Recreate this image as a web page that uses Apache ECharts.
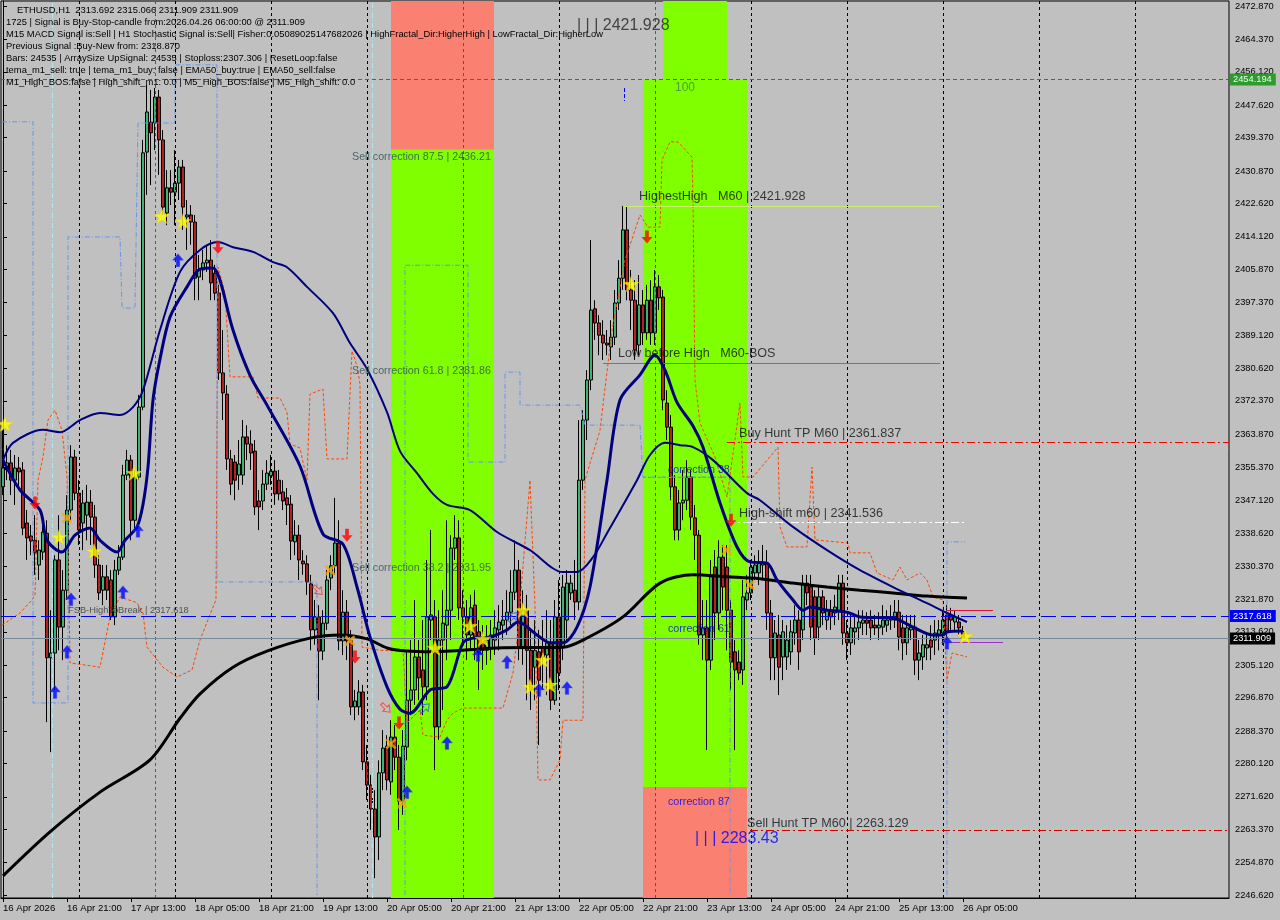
<!DOCTYPE html>
<html><head><meta charset="utf-8">
<script src="https://cdn.jsdelivr.net/npm/echarts@6/dist/echarts.min.js"></script>
<style>html,body{margin:0;padding:0;background:#C0C0C0}#c{width:1280px;height:920px}</style>
</head><body><div id="c"></div><script>
// ---------- tick labels ----------
const xTickLabels = ['16 Apr 2026','16 Apr 21:00','17 Apr 13:00','18 Apr 05:00','18 Apr 21:00','19 Apr 13:00','20 Apr 05:00','20 Apr 21:00','21 Apr 13:00','22 Apr 05:00','22 Apr 21:00','23 Apr 13:00','24 Apr 05:00','24 Apr 21:00','25 Apr 13:00','26 Apr 05:00'];
const yTickLabels = ['2472.870','2464.370','2456.120','2447.620','2439.370','2430.870','2422.620','2414.120','2405.870','2397.370','2389.120','2380.620','2372.370','2363.870','2355.370','2347.120','2338.620','2330.370','2321.870','2313.620','2305.120','2296.870','2288.370','2280.120','2271.620','2263.370','2254.870','2246.620'];
// ---------- H1 candles (16 Apr 05:00 .. 26 Apr 06:00) ----------
const open = [2350.5,2354.8,2356.6,2352.2,2355.3,2354.8,2341.3,2338.0,2336.9,2330.6,
2333.9,2338.7,2307.0,2308.2,2331.9,2314.8,2324.2,2344.6,2358.1,2348.9,
2341.3,2343.3,2346.6,2342.8,2330.6,2324.2,2327.6,2326.8,2317.4,2329.3,
2332.6,2353.5,2357.3,2342.0,2353.0,2370.8,2435.7,2443.3,2443.1,2449.7,
2438.8,2420.2,2426.6,2425.5,2427.8,2431.9,2419.2,2419.7,2417.9,2403.9,
2405.7,2407.5,2408.2,2404.9,2399.8,2379.5,2374.1,2357.6,2356.8,2353.5,
2353.5,2363.2,2361.4,2359.6,2346.9,2346.9,2351.2,2353.3,2354.5,2352.2,
2349.2,2347.7,2346.1,2336.5,2338.2,2331.6,2330.9,2325.8,2314.1,2317.4,
2308.7,2315.8,2327.3,2330.4,2336.2,2311.3,2318.6,2311.3,2294.5,2294.5,
2298.3,2280.5,2274.6,2268.5,2261.4,2277.7,2284.5,2275.4,2286.8,2281.7,
2270.5,2284.3,2296.2,2298.8,2307.2,2303.9,2299.6,2316.6,2317.4,2289.4,
2311.5,2315.3,2319.1,2334.9,2337.5,2319.7,2317.4,2312.8,2320.4,2313.6,
2312.0,2308.9,2309.5,2311.5,2314.1,2315.3,2316.6,2318.6,2323.7,2329.3,
2309.7,2319.1,2308.9,2304.6,2308.5,2309.5,2307.7,2310.8,2296.2,2317.4,
2309.7,2316.6,2323.5,2324.2,2321.2,2352.2,2367.5,2377.7,2395.8,2392.2,
2389.1,2387.1,2386.1,2388.6,2397.3,2403.6,2415.9,2400.6,2398.0,2386.6,
2396.8,2389.7,2398.0,2389.7,2401.4,2398.8,2371.8,2365.7,2350.5,2339.5,
2346.4,2347.1,2353.0,2342.6,2338.2,2312.8,2314.6,2306.4,2330.1,2318.4,
2332.6,2330.1,2319.1,2308.5,2305.9,2303.9,2321.7,2323.5,2328.6,2328.6,
2330.6,2331.1,2318.4,2307.0,2312.8,2307.2,2307.2,2308.5,2313.3,2316.6,
2314.1,2326.0,2325.0,2322.5,2314.8,2322.5,2316.6,2319.1,2318.4,2319.1,
2326.0,2313.3,2310.8,2313.6,2314.6,2315.8,2316.6,2316.6,2315.3,2314.6,
2314.8,2315.3,2317.4,2316.6,2318.6,2314.6,2310.8,2314.1,2314.8,2306.4,
2307.2,2309.5,2311.5,2311.5,2312.8,2313.3,2317.9,2317.9,2316.1,2316.1,
2313.692];
const close = [2355.3,2356.6,2352.2,2355.3,2354.3,2340.0,2337.5,2336.7,2333.7,2334.4,
2339.0,2307.0,2308.2,2331.9,2314.8,2324.2,2344.6,2358.1,2348.9,2339.5,
2346.4,2346.6,2342.8,2330.6,2323.5,2327.6,2324.2,2317.4,2329.3,2332.6,
2353.5,2357.3,2342.0,2353.0,2370.8,2435.5,2445.9,2440.6,2449.7,2438.8,
2421.7,2426.6,2425.5,2427.8,2431.9,2421.7,2419.7,2417.9,2403.6,2405.7,
2407.5,2408.2,2402.4,2399.8,2379.5,2374.4,2357.6,2351.2,2352.2,2356.3,
2363.2,2361.4,2359.1,2345.4,2345.4,2351.2,2354.0,2354.5,2348.7,2348.7,
2346.9,2345.9,2336.7,2338.2,2331.9,2330.9,2326.3,2314.1,2317.4,2308.7,
2315.8,2326.8,2330.4,2336.2,2311.3,2318.6,2311.3,2294.5,2296.0,2298.3,
2280.5,2274.6,2268.5,2261.4,2277.7,2284.0,2275.9,2286.8,2281.7,2270.5,
2284.5,2296.2,2298.8,2307.2,2301.9,2299.6,2317.4,2317.9,2289.4,2311.5,
2315.8,2319.1,2334.9,2337.5,2319.7,2317.4,2312.8,2319.7,2312.0,2308.2,
2308.9,2311.5,2312.8,2314.6,2316.1,2316.6,2318.6,2323.7,2329.3,2309.7,
2319.1,2308.9,2298.8,2308.9,2301.3,2307.2,2310.8,2296.2,2317.4,2303.1,
2325.0,2326.0,2326.0,2321.2,2352.2,2367.5,2377.7,2395.5,2392.2,2389.1,
2387.1,2386.6,2388.6,2397.3,2403.6,2415.9,2400.6,2398.0,2385.3,2396.8,
2389.7,2398.0,2389.7,2401.4,2398.6,2372.6,2365.7,2350.5,2339.5,2346.4,
2347.1,2353.0,2342.8,2338.2,2312.8,2314.6,2306.4,2327.6,2318.4,2332.6,
2325.0,2319.1,2305.9,2303.9,2303.1,2322.5,2323.5,2330.1,2330.6,2331.1,
2331.1,2318.4,2307.0,2313.3,2304.6,2313.6,2311.5,2313.6,2316.6,2308.5,
2326.0,2323.5,2314.8,2312.0,2322.5,2318.4,2319.1,2317.4,2319.9,2326.0,
2313.3,2310.8,2314.6,2314.6,2316.1,2316.6,2315.8,2314.6,2314.6,2315.3,
2316.6,2316.6,2316.6,2318.6,2312.3,2310.8,2314.6,2314.8,2306.4,2308.2,
2310.3,2310.3,2309.7,2313.3,2314.1,2316.6,2313.3,2316.6,2317.4,2314.6,
2311.909];
const low = [2348.4,2352.2,2348.4,2345.9,2349.7,2338.2,2331.9,2333.1,2328.1,2326.8,
2331.9,2290.6,2283.0,2298.8,2308.9,2306.4,2321.7,2342.0,2347.1,2335.7,
2334.4,2336.9,2335.7,2327.3,2321.7,2320.4,2321.7,2316.6,2315.3,2328.1,
2331.9,2352.2,2336.9,2339.5,2352.2,2370.0,2424.8,2427.3,2436.2,2429.9,
2419.7,2417.1,2422.2,2417.1,2423.5,2415.9,2410.8,2412.1,2398.0,2398.0,
2403.1,2405.2,2398.0,2398.0,2377.7,2367.5,2354.8,2348.4,2347.1,2349.7,
2351.0,2357.3,2354.8,2343.3,2339.5,2344.6,2349.7,2351.0,2345.9,2347.1,
2344.6,2340.8,2331.9,2333.1,2326.8,2328.1,2323.0,2308.9,2310.3,2296.2,
2306.4,2314.1,2324.2,2328.1,2308.9,2307.7,2306.4,2292.4,2291.1,2292.4,
2278.4,2270.8,2263.2,2250.9,2255.5,2273.3,2273.3,2272.1,2278.4,2263.2,
2267.0,2280.9,2292.4,2295.0,2296.2,2292.4,2296.2,2311.5,2278.4,2286.1,
2293.7,2306.4,2311.5,2331.9,2316.6,2310.3,2306.4,2308.9,2306.4,2298.8,
2303.9,2305.2,2306.4,2307.7,2308.9,2311.5,2312.8,2315.3,2321.7,2306.4,
2305.2,2296.2,2293.7,2296.2,2284.8,2298.8,2297.5,2293.7,2295.0,2298.8,
2306.4,2311.5,2321.7,2316.6,2319.1,2349.7,2362.4,2375.1,2387.9,2384.0,
2382.8,2384.0,2382.8,2386.6,2395.5,2400.6,2398.0,2390.4,2382.8,2384.0,
2386.6,2387.9,2386.6,2386.6,2395.5,2370.0,2362.4,2347.1,2336.9,2336.9,
2342.0,2344.6,2339.5,2331.9,2310.3,2306.4,2283.5,2303.9,2311.5,2314.1,
2319.1,2308.9,2298.8,2283.5,2301.3,2300.1,2319.1,2321.7,2326.8,2325.5,
2326.8,2314.1,2301.3,2301.3,2297.5,2301.3,2303.9,2305.2,2310.3,2303.9,
2311.5,2320.4,2311.5,2307.7,2311.5,2315.3,2314.1,2314.1,2315.3,2316.6,
2310.3,2306.4,2307.7,2310.3,2311.5,2312.8,2312.8,2311.5,2312.8,2311.5,
2312.8,2313.6,2314.1,2314.6,2308.9,2306.4,2307.7,2311.5,2302.6,2301.3,
2303.9,2306.4,2306.4,2307.7,2308.9,2310.3,2311.5,2314.1,2314.1,2312.8,
2311.909];
const high = [2364.9,2361.1,2359.9,2358.6,2358.1,2356.8,2344.6,2340.8,2343.3,2336.9,
2343.3,2342.0,2319.1,2333.1,2343.3,2329.3,2348.4,2361.1,2359.9,2352.2,
2349.7,2351.0,2349.7,2345.9,2333.1,2330.6,2330.6,2329.3,2331.9,2335.7,
2356.1,2359.9,2358.6,2354.8,2373.9,2438.8,2452.8,2451.5,2452.0,2451.5,
2441.3,2431.1,2431.1,2436.2,2433.7,2433.7,2423.5,2422.2,2419.7,2409.5,
2410.8,2412.1,2413.3,2407.0,2401.9,2390.4,2376.4,2359.9,2358.6,2362.4,
2367.5,2366.2,2364.9,2362.4,2349.7,2354.8,2357.3,2358.6,2357.3,2354.8,
2352.2,2350.2,2348.4,2342.0,2340.8,2334.4,2333.1,2328.1,2321.7,2320.4,
2319.1,2329.3,2333.1,2347.7,2342.0,2324.2,2321.7,2314.1,2298.8,2301.3,
2300.1,2284.8,2277.2,2273.3,2280.9,2288.6,2287.3,2291.1,2289.9,2284.8,
2288.6,2308.9,2311.5,2321.7,2311.5,2316.6,2331.9,2339.5,2321.7,2319.1,
2324.2,2342.0,2338.2,2343.3,2342.0,2324.2,2321.7,2323.0,2324.2,2316.6,
2315.3,2315.3,2316.6,2319.1,2320.4,2321.7,2324.2,2329.3,2336.9,2331.9,
2324.2,2323.0,2314.1,2316.6,2314.1,2316.6,2319.1,2316.6,2321.7,2326.8,
2328.1,2329.3,2328.1,2331.9,2367.5,2370.0,2380.2,2413.3,2398.0,2394.2,
2392.9,2390.4,2392.9,2400.6,2408.2,2422.0,2422.0,2405.7,2403.1,2404.4,
2400.6,2401.9,2403.1,2405.7,2404.4,2400.6,2375.1,2368.8,2353.5,2349.7,
2354.8,2357.3,2354.8,2345.9,2339.5,2321.7,2321.7,2331.9,2334.4,2336.9,
2335.7,2335.7,2321.7,2311.5,2308.9,2326.8,2328.1,2331.9,2333.1,2334.4,
2335.7,2334.4,2321.7,2316.6,2317.9,2316.6,2315.3,2316.6,2320.4,2319.1,
2328.1,2328.1,2328.1,2324.2,2325.5,2324.2,2321.7,2321.7,2323.0,2328.1,
2328.1,2316.6,2317.9,2317.9,2319.1,2319.1,2318.6,2319.1,2317.9,2318.6,
2320.4,2319.1,2320.4,2321.7,2321.7,2317.9,2317.9,2317.9,2317.9,2311.5,
2312.8,2312.8,2315.3,2316.6,2316.6,2319.1,2320.4,2319.7,2319.1,2317.9,
2315.066];
// ---------- indicator lines: [bar position, price] ----------
const fastMA = [[0,2357.3],[4.25,2349.7],[9.25,2344.6],[11,2336.9],[14.75,2333.9],[18,2338.2],[21.75,2340.0],[24.25,2336.9],[28.5,2333.9],[30.5,2336.9],[33.5,2340.3],[35,2346.0],[36.25,2355.5],[37.5,2372.6],[39.25,2383.0],[41.75,2393.7],[46,2401.4],[49.25,2405.9],[52.5,2406.2],[54.25,2403.1],[57.5,2390.4],[61.75,2378.9],[66,2371.3],[74.25,2355.8],[80,2338.5],[85,2335.9],[88.5,2325.0],[91.75,2312.3],[96,2299.6],[99.25,2293.9],[101.75,2292.9],[106.75,2298.8],[111,2299.6],[115,2310.8],[117.5,2312.0],[121.75,2312.3],[126,2314.1],[128.75,2316.1],[133.5,2312.8],[136.75,2310.8],[140,2310.8],[143.5,2314.8],[146.75,2325.0],[151,2352.2],[154.25,2372.6],[159.25,2379.0],[163,2384.0],[165.5,2380.2],[168.5,2372.0],[172.5,2366.0],[175,2360.6],[179.25,2346.4],[183.5,2335.2],[186.75,2331.4],[191,2331.1],[193.5,2326.8],[197.5,2321.7],[200,2319.1],[201.75,2319.9],[206,2319.1],[211,2318.6],[214.25,2317.4],[222.5,2317.1],[227.5,2314.8],[232.5,2312.8],[235,2312.8],[236,2313.6],[240,2313.8]];
const slowMA = [[0,2357.3],[2.5,2361.7],[10,2365.0],[14.25,2364.4],[19.25,2367.5],[24.25,2369.3],[29.25,2368.8],[32.5,2370.8],[35,2375.1],[39.25,2390.4],[44.25,2405.2],[49.25,2410.8],[53.75,2412.8],[57.5,2411.5],[62.5,2410.3],[67.5,2407.7],[71,2406.4],[76,2401.4],[82.5,2394.7],[86.75,2387.1],[91,2380.5],[96,2369.5],[99.25,2359.6],[103.5,2354.0],[107.5,2348.7],[111,2345.9],[116.75,2344.6],[123.5,2339.0],[131.75,2334.4],[140,2328.8],[143.5,2328.8],[147.5,2332.6],[151,2338.7],[158.5,2352.2],[161.75,2358.6],[165.5,2361.7],[169.25,2361.1],[172.5,2360.6],[177.5,2357.3],[186,2348.9],[189.25,2347.1],[197.5,2340.3],[206,2334.4],[214.25,2329.3],[222.5,2325.0],[231,2320.9],[236,2318.4],[241,2316.1]];
const longMA = [[0,2251.5],[11.75,2262.7],[24.25,2272.8],[36.75,2281.0],[44.25,2291.6],[49.25,2297.8],[57.5,2304.6],[66,2308.7],[76.75,2312.0],[84.25,2312.8],[91,2311.8],[96,2309.5],[101,2308.7],[106.75,2308.5],[123.5,2309.5],[140,2309.7],[145,2311.5],[155,2317.4],[164.25,2326.0],[172.5,2328.1],[181,2327.6],[189.25,2327.1],[197.5,2326.0],[206,2325.0],[214.25,2324.2],[222.5,2323.5],[231,2322.7],[241,2322.2]];
const orangeBand = [[-0.25,2315.3],[4.25,2318.4],[7.25,2321.7],[8,2323.0],[8.75,2352.2],[10,2358.1],[11.25,2367.5],[13,2370.0],[14.75,2364.9],[16,2353.0],[16.75,2305.7],[24.25,2304.6],[26.75,2317.4],[29.25,2322.5],[33.5,2321.0],[35,2318.4],[36,2309.7],[40,2304.6],[43.5,2302.1],[47.25,2303.9],[49.25,2311.5],[52.5,2319.9],[53.25,2321.7],[53.75,2406.4],[55.5,2399.8],[56.75,2378.5],[62.5,2378.5],[63.75,2373.1],[69.25,2373.1],[71,2369.5],[71.75,2361.4],[74.25,2360.4],[76,2352.2],[76.75,2374.1],[80,2375.4],[81,2357.6],[86,2357.6],[87.25,2385.1],[88.5,2381.3],[89.25,2376.7],[89.75,2309.7],[94.25,2308.9],[100,2308.7],[101,2290.4],[104.25,2293.7],[105,2287.3],[109.25,2286.8],[111,2291.1],[112.5,2292.9],[115,2294.2],[125,2294.2],[127.5,2303.1],[128.5,2311.5],[131.75,2352.2],[133,2320.0],[133.75,2275.9],[136.75,2275.9],[139.25,2281.0],[140,2291.1],[145,2291.1],[145.5,2352.2],[149.25,2364.9],[152.25,2390.4],[155.5,2408.2],[159.25,2419.7],[161.25,2416.6],[164.25,2416.6],[164.75,2433.7],[166.75,2438.3],[168.75,2438.3],[172.25,2434.4],[172.5,2423.5],[173,2377.7],[174.25,2366.7],[178,2358.1],[181,2347.9],[184.25,2371.8],[185,2353.0],[187.5,2353.0],[193.75,2360.6],[194.25,2340.3],[196,2335.2],[201,2335.2],[202.25,2355.5],[203,2337.0],[211.25,2336.2],[211.75,2333.7],[216.75,2333.7],[218.5,2328.6],[222.5,2326.8],[224.25,2330.1],[226,2326.8],[229.25,2328.6],[231,2326.8],[232.5,2322.5],[235,2321.7],[236,2301.3],[237.25,2308.2],[241,2307.2]];
const blueBand = [[-0.25,2443.4],[7.5,2443.4],[7.5,2295.5],[16.25,2295.5],[16.25,2414.1],[29.25,2414.1],[29.75,2396.0],[33,2396.0],[33.75,2443.1],[43,2443.1],[43,2457.9],[53.5,2457.9],[53.5,2326.3],[78.5,2326.3],[78.5,2246.6],null,[100.5,2246.6],[100.5,2406.9],[116.25,2406.9],[116.25,2356.8],[125.5,2356.8],[125.5,2379.7],[129.25,2379.7],[129.25,2371.3],[144.25,2371.3],[145.5,2366.2],[159.25,2366.2],[160,2353.0],[181.75,2353.0],[181.75,2246.6],null,[236,2246.6],[236,2336.5],[240.5,2336.5]];
// ---------- signal markers ----------
const stars = [[0.5,2366.5],[14,2337.7],[22.75,2334.1],[32.75,2354.0],[39.75,2419.4],[45,2418.1],[108,2309.5],[116.75,2315.1],[120,2311.8],[130,2319.1],[131.75,2299.6],[135,2306.4],[136.75,2300.1],[157,2402.1],[240.5,2312.5]];
const upArrows = [[13,2298.3],[16,2308.5],[17,2321.9],[30,2323.7],[33.75,2339.3],[43.75,2408.2],[101,2272.8],[111,2285.3],[118.75,2307.7],[126,2305.9],[134,2298.8],[141,2299.3],[236,2310.8]];
const downArrows = [[8,2346.4],[53.75,2411.5],[86,2338.2],[88,2307.2],[99,2290.4],[161,2414.1],[182,2342.0]];
const crosses = [[16,2342.6],[81.75,2329.3],[86.75,2311.3],[97,2285.1],[99.75,2270.0],[181,2334.4],[186.75,2325.5]];
const hollowSell = [[78.75,2324.2],[95.75,2294.2]];
const hollowBuy = [[105.5,2294.2],[127.5,2317.4]];
// ---------- levels ----------
const lvlAsk = 2454.194, lvlFSB = 2317.618, lvlBid = 2311.909;
const lvlHighest = 2421.928, lvlLowBeforeHigh = 2382.0, lvlBuyHunt = 2361.837, lvlHighShift = 2341.536, lvlSellHunt = 2263.129;
const dayLines = [19,43,67,91,139,187,211,235,259,283];
const periodLines = [38,115,163];
const infoLines = [
 'ETHUSD,H1  2313.692 2315.066 2311.909 2311.909',
 '1725 | Signal is Buy-Stop-candle from:2026.04.26 06:00:00 @ 2311.909',
 'M15 MACD Signal is:Sell | H1 Stochastic Signal is:Sell| Fisher:0.05089025147682026 | HighFractal_Dir:HigherHigh | LowFractal_Dir:HigherLow',
 'Previous Signal :Buy-New from: 2318.870',
 'Bars: 24535 | ArraySize UpSignal: 24535 | Stoploss:2307.306 | ResetLoop:false',
 'tema_m1_sell: true | tema_m1_buy: false | EMA50_buy:true | EMA50_sell:false',
 'M1_High_BOS:false | High_shift_m1: 0.0 | M5_High_BOS:false | M5_High_shift: 0.0'
];
const annotations = [
 {text:'Sell correction 87.5 | 2436.21', at:[87.25,2434.5], k:'corr'},
 {text:'Sell correction 61.8 | 2381.86', at:[87.25,2380.0], k:'corr'},
 {text:'Sell correction 38.2 | 2331.95', at:[87.25,2329.9], k:'corr'},
 {text:'100', at:[168,2452.0], k:'hundred'},
 {text:'| | | 2421.928', at:[143.5,2467.8], k:'big'},
 {text:'HighestHigh   M60 | 2421.928', at:[159,2424.3], k:'lvl'},
 {text:'Low before High   M60-BOS', at:[153.75,2384.5], k:'lvl'},
 {text:'Buy Hunt TP M60 | 2361.837', at:[184,2364.2], k:'lvl'},
 {text:'High-shift m60 | 2341.536', at:[184,2343.7], k:'lvl'},
 {text:'Sell Hunt TP M60 | 2263.129', at:[186,2264.7], k:'lvl'},
 {text:'correction 38', at:[166.25,2354.8], k:'blue'},
 {text:'correction 61', at:[166.25,2314.4], k:'blue'},
 {text:'correction 87', at:[166.25,2270.3], k:'blue'},
 {text:'| | | 2283.43', at:[173,2260.9], k:'bigblue'},
 {text:'FSB-HighToBreak | 2317.618', at:[16.25,2319.1], k:'small'}
];

// ---------- build ----------
const N = 307, YMIN = 2245.86, YMAX = 2474.15;
const FONT = '"Liberation Sans", Arial, sans-serif';
const cats = Array.from({length:N}, (_, i) => String(i));
const candles = open.map((o, i) => [o, close[i], low[i], high[i]]);
const yTicks = yTickLabels.map(Number);
const annStyle = {
 corr:{color:'#2F4F4F', fontSize:10.7}, hundred:{color:'#3D8B3D', fontSize:12},
 big:{color:'#222', fontSize:16}, lvl:{color:'#111', fontSize:12.6},
 blue:{color:'#0000FF', fontSize:10.7}, bigblue:{color:'#0000FF', fontSize:16},
 small:{color:'#333', fontSize:9.3}
};
const STAR = 'path://M50,0L61.8,35.1L98.9,35.1L68.9,56.7L80.2,91.9L50,70.3L19.8,91.9L31.1,56.7L1.1,35.1L38.2,35.1Z';
const ARROW = 'path://M6,0L12,7L8,7L8,14L4,14L4,7L0,7Z';
const CROSS = 'path://M0,2L2,0L6,4L10,0L12,2L8,6L12,10L10,12L6,8L2,12L0,10L4,6Z';
const ov = {xAxisIndex:1, yAxisIndex:0};
const seg = (b0, b1, p, color, type, width) => [{coord:[b0,p], lineStyle:{color, type, width:width||1}}, {coord:[b1,p]}];

const option = {
 backgroundColor:'#C0C0C0', animation:false,
 textStyle:{fontFamily:FONT},
 grid:{left:1, right:51, top:1, bottom:22, show:true, borderColor:'#000', borderWidth:1, backgroundColor:'transparent'},
 xAxis:[
  {type:'category', data:cats, boundaryGap:true,
   axisLine:{lineStyle:{color:'#000'}},
   axisTick:{show:true, alignWithLabel:true, length:4, lineStyle:{color:'#000'}, interval:(i)=> i%16===0 && i/16 < xTickLabels.length},
   axisLabel:{interval:(i)=> i%16===0 && i/16 < xTickLabels.length, formatter:(v, i)=> xTickLabels[Math.round(Number(v)/16)] || '', align:'left', color:'#000', fontSize:9.6, fontFamily:FONT, margin:5},
   splitLine:{show:false}},
  {type:'value', min:-0.5, max:N-0.5, show:false}
 ],
 yAxis:[{type:'value', position:'right', min:YMIN, max:YMAX, scale:true,
   axisLine:{show:true, lineStyle:{color:'#000'}},
   axisTick:{show:true, length:4, lineStyle:{color:'#000'}, customValues:yTicks},
   axisLabel:{customValues:yTicks, color:'#000', fontSize:9.3, fontFamily:FONT, margin:6,
     formatter:(v)=> (yTickLabels.find(s => Math.abs(Number(s)-v) < 1e-6) || Number(v).toFixed(3))},
   splitLine:{show:false}}],
 graphic: infoLines.map((t, k) => ({type:'text', left: k===0 ? 17 : 6, top: 5.5 + 12*k, z:100,
   style:{text:t, fill:'#000', font:'9.4px ' + FONT}})),
 series:[
  // zones
  Object.assign({type:'line', name:'zones', data:[], z:0, silent:true,
   markArea:{silent:true, data:[
    [{coord:[97,YMAX], itemStyle:{color:'#FA8072'}}, {coord:[122.75,2436.3]}],
    [{coord:[97,2436.3], itemStyle:{color:'#7FFF00'}}, {coord:[122.75,YMIN]}],
    [{coord:[165,YMAX], itemStyle:{color:'#7FFF00'}}, {coord:[181,lvlAsk]}],
    [{coord:[160,lvlAsk], itemStyle:{color:'#7FFF00'}}, {coord:[186,2274.1]}],
    [{coord:[160,2274.1], itemStyle:{color:'#FA8072'}}, {coord:[186,YMIN]}]
   ]}}, ov),
  // separators
  Object.assign({type:'line', name:'separators', data:[], z:1, silent:true,
   markLine:{silent:true, symbol:['none','none'], label:{show:false}, data:[
    ...dayLines.map(b => ({xAxis:b, lineStyle:{color:'#000', type:[3,3], width:1}})),
    ...periodLines.map(b => ({xAxis:b, lineStyle:{color:'#C71585', type:[3,3], width:1}})),
    {xAxis:12.25, lineStyle:{color:'#B0E8F0', type:[5,2,1,2], width:1}},
    {xAxis:92.25, lineStyle:{color:'#B0E8F0', type:[5,2,1,2], width:1}}
   ]}}, ov),
  {type:'candlestick', name:'ETHUSD', xAxisIndex:0, yAxisIndex:0, data:candles, z:3, barWidth:3,
   itemStyle:{color:'#3CB371', color0:'#B22222', borderColor:'#000', borderColor0:'#000', borderWidth:1}},
  Object.assign({type:'line', name:'bandUpper', data:orangeBand, z:4, symbol:'none', connectNulls:false,
   lineStyle:{color:'#FF4500', width:1, type:[3,2]}}, ov),
  Object.assign({type:'line', name:'bandStops', data:blueBand, z:4, symbol:'none', connectNulls:false,
   lineStyle:{color:'#6495ED', width:1, type:[5,2,1,2]}}, ov),
  Object.assign({type:'line', name:'longMA', data:longMA, z:5, symbol:'none', smooth:0.3,
   lineStyle:{color:'#000', width:3}}, ov),
  Object.assign({type:'line', name:'slowMA', data:slowMA, z:5, symbol:'none', smooth:0.3,
   lineStyle:{color:'#000080', width:2}}, ov),
  Object.assign({type:'line', name:'fastMA', data:fastMA, z:5, symbol:'none', smooth:0.3,
   lineStyle:{color:'#000080', width:3}}, ov),
  // levels
  Object.assign({type:'line', name:'levels', data:[], z:6, silent:true,
   markLine:{silent:true, symbol:['none','none'], data:[
    {yAxis:lvlAsk, lineStyle:{color:'#00A000', type:[4,3], width:1},
     label:{show:true, position:'end', distance:1, formatter:lvlAsk.toFixed(3), backgroundColor:'#2E9B2E', color:'#E8FFE8', fontSize:9.3, fontFamily:FONT, padding:[2,4,1,3]}},
    {yAxis:lvlFSB, lineStyle:{color:'#0000FF', type:[15,5], width:1},
     label:{show:true, position:'end', distance:1, formatter:lvlFSB.toFixed(3), backgroundColor:'#0000FF', color:'#FFFFFF', fontSize:9.3, fontFamily:FONT, padding:[2,4,1,3]}},
    {yAxis:lvlBid, lineStyle:{color:'#778899', type:'solid', width:1},
     label:{show:true, position:'end', distance:1, formatter:lvlBid.toFixed(3), backgroundColor:'#000', color:'#FFFFFF', fontSize:9.3, fontFamily:FONT, padding:[2,4,1,3]}},
    seg(155, 234.25, lvlHighest, '#CDEB70', 'solid'),
    seg(150, 234.25, lvlLowBeforeHigh, '#FF4500', 'solid'),
    seg(181, 306.5, lvlBuyHunt, '#FF0000', [8,3,2,3]),
    seg(181, 240.5, lvlHighShift, '#FFFFFF', [8,3,2,3]),
    seg(186.75, 306.5, lvlSellHunt, '#CC0000', [8,3,2,3]),
    seg(160, 181, 2353.0, '#6495ED', [3,2]),
    seg(236, 247.5, 2319.1, '#DC143C', 'solid'),
    seg(236, 250, 2311.0, '#9932CC', 'solid'),
    [{coord:[155.25,2452.0], lineStyle:{color:'#0000FF', width:1}}, {coord:[155.25,2448.7]}]
   ].map(d => Array.isArray(d) ? d.map(e => Object.assign({label:{show:false}}, e)) : d)}}, ov),
  // markers
  Object.assign({type:'scatter', name:'stars', data:stars, z:8, symbol:STAR, symbolSize:[16,15],
   itemStyle:{color:'#FFFF00', borderColor:'#E6D200', borderWidth:0.5}}, ov),
  Object.assign({type:'scatter', name:'buy', data:upArrows, z:8, symbol:ARROW, symbolSize:[11,13],
   itemStyle:{color:'#0000FF', borderColor:'#4169E1', borderWidth:0.5}}, ov),
  Object.assign({type:'scatter', name:'sell', data:downArrows, z:8, symbol:ARROW, symbolRotate:180, symbolSize:[11,13],
   itemStyle:{color:'#FF0000'}}, ov),
  Object.assign({type:'scatter', name:'cross', data:crosses, z:8, symbol:CROSS, symbolSize:11,
   itemStyle:{color:'#FFA500'}}, ov),
  Object.assign({type:'scatter', name:'hollowSell', data:hollowSell, z:8, symbol:ARROW, symbolRotate:-135, symbolSize:[9,12],
   itemStyle:{color:'rgba(0,0,0,0)', borderColor:'#FF3030', borderWidth:1}}, ov),
  Object.assign({type:'scatter', name:'hollowBuy', data:hollowBuy, z:8, symbol:ARROW, symbolRotate:-45, symbolSize:[9,12],
   itemStyle:{color:'rgba(0,0,0,0)', borderColor:'#1E5AFF', borderWidth:1}}, ov),
  // annotations
  Object.assign({type:'scatter', name:'texts', z:9, silent:true, symbolSize:0,
   data: annotations.map(a => ({value:a.at, label:{show:true, position:'right', distance:0, formatter:a.text,
     color:annStyle[a.k].color, fontSize:annStyle[a.k].fontSize, fontFamily:FONT}}))}, ov)
 ]
};
const chart = echarts.init(document.getElementById('c'));
chart.setOption(option);
</script></body></html>
